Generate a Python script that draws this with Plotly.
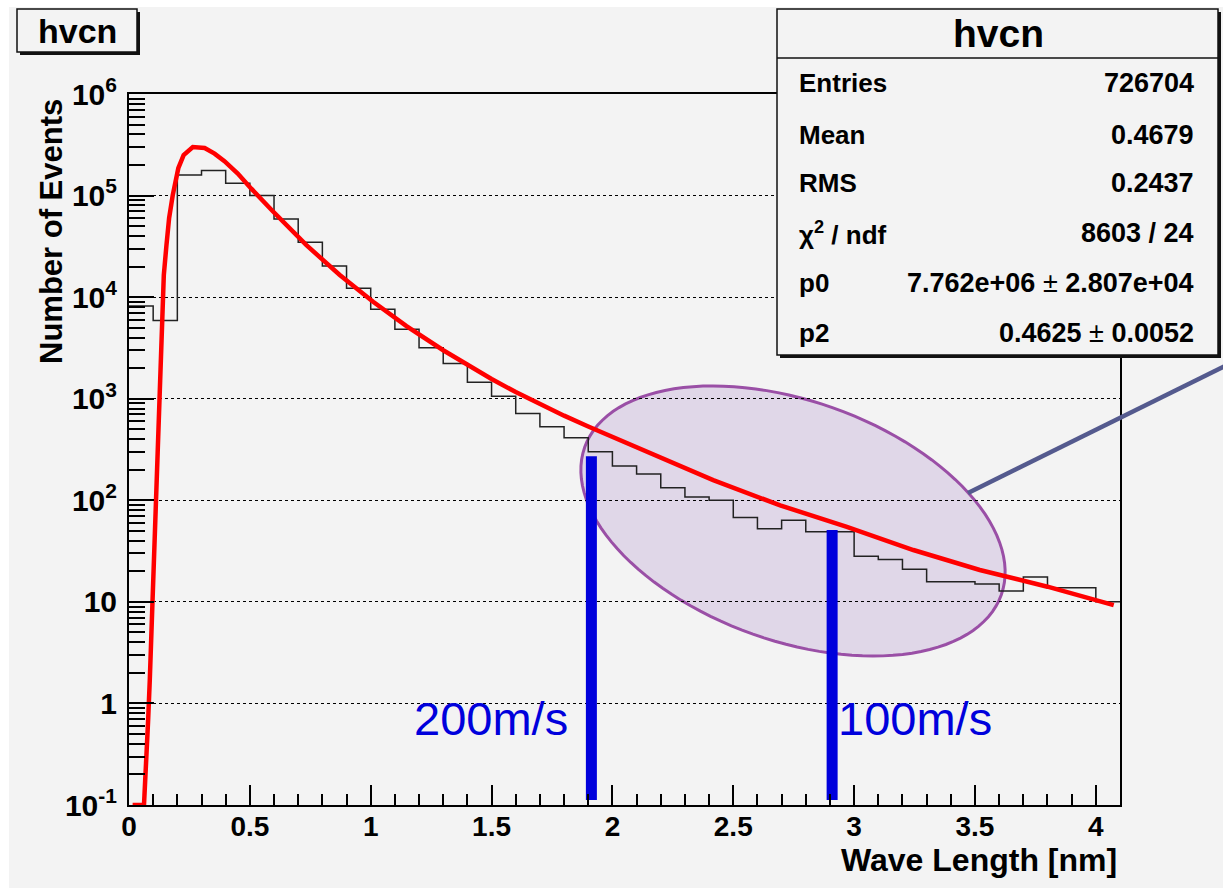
import numpy as np
import plotly.graph_objects as go

# ---------------- data ----------------
bin_edges = [0.0, 0.1, 0.2, 0.3, 0.4, 0.5, 0.6, 0.7, 0.8, 0.9, 1.0, 1.1, 1.2, 1.3,
             1.4, 1.5, 1.6, 1.7, 1.8, 1.9, 2.0, 2.1, 2.2, 2.3, 2.4, 2.5, 2.6, 2.7,
             2.8, 2.9, 3.0, 3.1, 3.2, 3.3, 3.4, 3.5, 3.6, 3.7, 3.8, 3.9, 4.0, 4.1]
hist_counts = [8200, 5900, 159000, 177000, 132000, 100000, 58700, 34700, 20300, 12200,
               7600, 4840, 3170, 2220, 1450, 1060, 717, 530, 413, 300,
               217, 181, 133, 108, 100, 67.6, 52.6, 63.6, 49, 49,
               28.1, 26.1, 20.9, 15.8, 15.8, 15.0, 12.8, 17.6, 13.8, 13.8, 10]

fit_x = [0.015, 0.062, 0.064, 0.072, 0.079, 0.086, 0.092, 0.099, 0.106, 0.111, 0.117,
         0.122, 0.128, 0.139, 0.144, 0.155, 0.166, 0.181, 0.194, 0.204, 0.226, 0.257,
         0.264, 0.313, 0.354, 0.395, 0.45, 0.506, 0.561, 0.595, 0.734, 0.872, 1.01,
         1.148, 1.3, 1.4, 1.5, 1.6, 1.7, 1.8, 1.9, 2.0, 2.142, 2.417, 2.694, 2.97,
         3.245, 3.52, 3.80, 4.074]
fit_y = [0.1, 0.1, 0.125, 0.254, 0.671, 1.70, 4.30, 11.1, 28.9, 80.2, 232,
         615, 1426, 8730, 16500, 32500, 60000, 101000, 136000, 186000, 250000, 293000,
         301000, 294000, 259000, 218000, 165000, 117000, 83600, 70000, 32500, 16500, 9000,
         5190, 3000, 2140, 1563, 1164, 883, 681, 532, 422, 300, 158, 89.1, 54.8,
         32.4, 20.6, 14.1, 9.3]

marker_x = [1.913, 2.909]
marker_top = [272, 51]
marker_bottom = 0.112
marker_labels = ["200m/s", "100m/s"]

stats_title = "hvcn"
stats_labels = ["Entries", "Mean", "RMS", "χ<sup>2</sup> / ndf", "p0", "p2"]
stats_values = ["<b>726704</b>", "<b>0.4679</b>", "<b>0.2437</b>", "<b>8603 / 24</b>",
                "<b>7.762e+06</b> ± <b>2.807e+04</b>", "<b>0.4625</b> ± <b>0.0052</b>"]

y_tickvals = [0.1, 1, 10, 100, 1e3, 1e4, 1e5, 1e6]
y_ticktext = ["10<sup>-1</sup>", "1", "10", "10<sup>2</sup>", "10<sup>3</sup>",
              "10<sup>4</sup>", "10<sup>5</sup>", "10<sup>6</sup>"]
x_tickvals = [0, 0.5, 1, 1.5, 2, 2.5, 3, 3.5, 4]
x_ticktext = ["0", "0.5", "1", "1.5", "2", "2.5", "3", "3.5", "4"]

# ---------------- layout geometry ----------------
WIDTH, HEIGHT = 1223, 890
L, R, T, B = 129, 1120, 94, 805
PW, PH = R - L, B - T
FONT = "Liberation Sans, Arial, Helvetica, sans-serif"
BG = "#f3f3f3"


def px(xp):
    return (xp - L) / PW


def py(yp):
    return (B - yp) / PH


fig = go.Figure()

# histogram (step)
fig.add_trace(go.Scatter(
    x=bin_edges, y=hist_counts + [hist_counts[-1]], mode="lines",
    line=dict(color="#222222", width=1.5, shape="hv"), hoverinfo="skip"))

# fit curve
fig.add_trace(go.Scatter(
    x=fit_x, y=fit_y, mode="lines",
    line=dict(color="#ff0000", width=4.5), hoverinfo="skip"))

# blue marker bars
for mx, mt in zip(marker_x, marker_top):
    fig.add_trace(go.Scatter(
        x=[mx, mx], y=[marker_bottom, mt], mode="lines",
        line=dict(color="#0000dc", width=11), hoverinfo="skip"))

shapes = []
# grey canvas
shapes.append(dict(type="rect", xref="paper", yref="paper",
                   x0=px(9), x1=px(1223), y0=py(888), y1=py(7),
                   fillcolor=BG, line=dict(width=0), layer="below"))

# ellipse highlight
cx, cy, ea, eb, th = 793, 521, 221, 120, np.deg2rad(19.5)
t = np.linspace(0, 2 * np.pi, 121)
ex = cx + ea * np.cos(th) * np.cos(t) - eb * np.sin(th) * np.sin(t)
ey = cy + ea * np.sin(th) * np.cos(t) + eb * np.cos(th) * np.sin(t)
path = "M " + " L ".join(f"{px(a):.5f},{py(b):.5f}" for a, b in zip(ex, ey)) + " Z"
shapes.append(dict(type="path", xref="paper", yref="paper", path=path,
                   fillcolor="rgba(125,70,175,0.16)",
                   line=dict(color="#9a4fa6", width=3), layer="between"))

# connector line
shapes.append(dict(type="line", xref="paper", yref="paper",
                   x0=px(968), y0=py(493), x1=px(1225), y1=py(366),
                   line=dict(color="#545a8e", width=4.5), layer="above"))


def box(x0, y0, x1, y1, sh=3):
    shapes.append(dict(type="rect", xref="paper", yref="paper",
                       x0=px(x0 + sh), x1=px(x1 + sh), y0=py(y1 + sh), y1=py(y0 + sh),
                       fillcolor="#111111", line=dict(width=0), layer="above"))
    shapes.append(dict(type="rect", xref="paper", yref="paper",
                       x0=px(x0), x1=px(x1), y0=py(y1), y1=py(y0),
                       fillcolor=BG, line=dict(color="#111111", width=1.5), layer="above"))


# title box and stats box
box(17, 9, 137, 52)
box(777, 9, 1218, 355)
shapes.append(dict(type="line", xref="paper", yref="paper",
                   x0=px(777), x1=px(1218), y0=py(58), y1=py(58),
                   line=dict(color="#111111", width=1.5), layer="above"))

annotations = []
annotations.append(dict(xref="paper", yref="paper", x=px(77), y=py(31),
                        text="<b>hvcn</b>", showarrow=False,
                        font=dict(family=FONT, size=34, color="black"),
                        xanchor="center", yanchor="middle"))
annotations.append(dict(xref="paper", yref="paper", x=px(998), y=py(33),
                        text=f"<b>{stats_title}</b>", showarrow=False,
                        font=dict(family=FONT, size=39, color="black"),
                        xanchor="center", yanchor="middle"))
row_y = [83, 135, 183, 233, 283, 333]
for lab, val, yy in zip(stats_labels, stats_values, row_y):
    annotations.append(dict(xref="paper", yref="paper", x=px(797), y=py(yy),
                            text=f"<b>{lab}</b>", showarrow=False,
                            font=dict(family=FONT, size=26, color="black"),
                            xanchor="left", yanchor="middle"))
    annotations.append(dict(xref="paper", yref="paper", x=px(1196), y=py(yy),
                            text=val, showarrow=False,
                            font=dict(family=FONT, size=27, color="black"),
                            xanchor="right", yanchor="middle"))

# axis titles
annotations.append(dict(xref="paper", yref="paper", x=px(52), y=py(232),
                        text="<b>Number of Events</b>", showarrow=False, textangle=-90,
                        font=dict(family=FONT, size=31, color="black"),
                        xanchor="center", yanchor="middle"))
annotations.append(dict(xref="paper", yref="paper", x=px(1119), y=py(860),
                        text="<b>Wave Length [nm]</b>", showarrow=False,
                        font=dict(family=FONT, size=32, color="black"),
                        xanchor="right", yanchor="middle"))

# blue labels
annotations.append(dict(xref="paper", yref="paper", x=px(570), y=py(718),
                        text=marker_labels[0], showarrow=False,
                        font=dict(family=FONT, size=47, color="#0000dc"),
                        xanchor="right", yanchor="middle"))
annotations.append(dict(xref="paper", yref="paper", x=px(836), y=py(718),
                        text=marker_labels[1], showarrow=False,
                        font=dict(family=FONT, size=47, color="#0000dc"),
                        xanchor="left", yanchor="middle"))

y_minor = [k * 10.0 ** e for e in range(-1, 6) for k in range(2, 10)]

fig.update_layout(
    width=WIDTH, height=HEIGHT, autosize=False,
    margin=dict(l=L, r=WIDTH - R, t=T, b=HEIGHT - B, pad=0),
    paper_bgcolor="white", plot_bgcolor="rgba(0,0,0,0)",
    showlegend=False, shapes=shapes, annotations=annotations,
    font=dict(family=FONT, color="black"),
    xaxis=dict(range=[0, 4.1], showgrid=False, zeroline=False,
               showline=True, linecolor="black", linewidth=2, mirror=True,
               ticks="inside", ticklen=20, tickwidth=1.5, tickcolor="black",
               tickvals=x_tickvals, ticktext=[f"<b>{s}</b>" for s in x_ticktext],
               tickfont=dict(family=FONT, size=28, color="black"),
               ticklabelstandoff=-5,
               minor=dict(ticks="inside", ticklen=11, tickwidth=1.5, tickcolor="black",
                          dtick=0.1, tick0=0, showgrid=False)),
    yaxis=dict(type="log", range=[-1, 6], zeroline=False,
               showgrid=True, gridcolor="black", gridwidth=1, griddash="dot",
               showline=True, linecolor="black", linewidth=2, mirror=True,
               ticks="inside", ticklen=25, tickwidth=1.5, tickcolor="black",
               tickvals=y_tickvals, ticktext=[f"<b>{s}</b>" for s in y_ticktext],
               tickfont=dict(family=FONT, size=30, color="black"),
               ticklabelstandoff=4,
               minor=dict(ticks="inside", ticklen=16, tickwidth=1.5, tickcolor="black",
                          tickmode="array", tickvals=y_minor, showgrid=False)),
)

fig.write_html("out.html")
